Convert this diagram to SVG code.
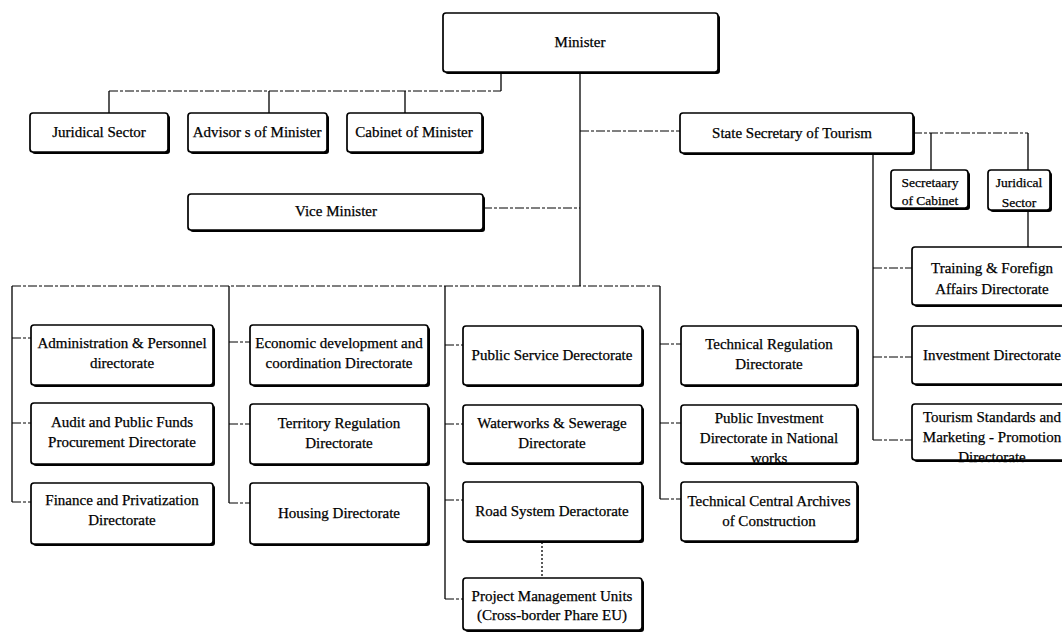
<svg xmlns="http://www.w3.org/2000/svg" width="1062" height="634" viewBox="0 0 1062 634">
  <style>
    .bg { fill: #ffffff; }
    .box { fill: #ffffff; stroke: #000000; stroke-width: 1.7; }
    .shadow { fill: #000000; }
    .t { font-family: "Liberation Serif", "Times New Roman", serif; font-size: 15px; fill: #000000; stroke: #000000; stroke-width: 0.25; text-anchor: middle; }
    .ts { font-size: 13.5px; }
    .solid { stroke: #000000; stroke-width: 1.3; fill: none; }
    .dash { stroke: #000000; stroke-width: 1; fill: none; stroke-dasharray: 9 2 3 2; }
    .dot { stroke: #000000; stroke-width: 1.3; fill: none; stroke-dasharray: 2 2; }
  </style>
  <rect class="bg" x="0" y="0" width="1062" height="634"/>

  <!-- connectors -->
  <g id="connectors">
    <!-- Minister to staff units -->
    <path class="solid" d="M501 72 V91"/>
    <path class="dash" d="M109 91 H501"/>
    <path class="solid" d="M109 91 V113 M269 91 V113 M405 91 V113"/>
    <!-- Minister main trunk -->
    <path class="solid" d="M580 72 V286"/>
    <path class="dash" d="M580 131 H680"/>
    <path class="dash" d="M483 208 H580"/>
    <!-- State Secretary branch -->
    <path class="dash" d="M913 133 H1028"/>
    <path class="solid" d="M931 133 V170 M1028 133 V170"/>
    <path class="solid" d="M1028 210 V247"/>
    <path class="solid" d="M873 153 V440"/>
    <path class="dash" d="M873 268 H912 M873 357 H912 M873 440 H912"/>
    <!-- directorate bus -->
    <path class="dash" d="M12 286 H660"/>
    <path class="solid" d="M12 286 V502 M229 286 V503 M445 286 V599 M660 286 V499"/>
    <path class="dash" d="M12 338 H31 M12 423 H31 M12 502 H31"/>
    <path class="dash" d="M229 342 H250 M229 424 H250 M229 503 H250"/>
    <path class="dash" d="M445 345 H463 M445 424 H463 M445 500 H463 M445 599 H463"/>
    <path class="dash" d="M660 344 H681 M660 423 H681 M660 499 H681"/>
    <!-- Road System to Project Management Units -->
    <path class="dot" d="M542 542 V578"/>
  </g>

  <!-- top level -->
  <g id="minister">
    <rect class="shadow" x="445" y="15" width="275" height="59" rx="3"/>
    <rect class="box" x="443" y="13" width="275" height="59" rx="3"/>
    <text class="t" x="580" y="47">Minister</text>
  </g>
  <g id="juridical-sector">
    <rect class="shadow" x="32" y="115" width="138" height="39" rx="3"/>
    <rect class="box" x="30" y="113" width="138" height="39" rx="3"/>
    <text class="t" x="99" y="137">Juridical Sector</text>
  </g>
  <g id="advisors">
    <rect class="shadow" x="190" y="115" width="139" height="39" rx="3"/>
    <rect class="box" x="188" y="113" width="139" height="39" rx="3"/>
    <text class="t" x="257" y="137">Advisor s of Minister</text>
  </g>
  <g id="cabinet">
    <rect class="shadow" x="349" y="115" width="135" height="39" rx="3"/>
    <rect class="box" x="347" y="113" width="135" height="39" rx="3"/>
    <text class="t" x="414" y="137">Cabinet of Minister</text>
  </g>
  <g id="vice-minister">
    <rect class="shadow" x="190" y="196" width="295" height="36" rx="3"/>
    <rect class="box" x="188" y="194" width="295" height="36" rx="3"/>
    <text class="t" x="336" y="216">Vice Minister</text>
  </g>
  <g id="state-secretary">
    <rect class="shadow" x="682" y="115" width="233" height="40" rx="3"/>
    <rect class="box" x="680" y="113" width="233" height="40" rx="3"/>
    <text class="t" x="792" y="138">State Secretary of Tourism</text>
  </g>

  <!-- tourism branch -->
  <g id="secretary-cabinet">
    <rect class="shadow" x="893" y="172" width="77" height="38" rx="3"/>
    <rect class="box" x="891" y="170" width="77" height="38" rx="3"/>
    <text class="t ts" x="930" y="187">Secretaary</text>
    <text class="t ts" x="930" y="205">of Cabinet</text>
  </g>
  <g id="tourism-juridical">
    <rect class="shadow" x="990" y="172" width="62" height="40" rx="3"/>
    <rect class="box" x="988" y="170" width="62" height="40" rx="3"/>
    <text class="t ts" x="1019" y="187">Juridical</text>
    <text class="t ts" x="1019" y="207">Sector</text>
  </g>
  <g id="training">
    <rect class="shadow" x="914" y="249" width="160" height="58" rx="3"/>
    <rect class="box" x="912" y="247" width="160" height="58" rx="3"/>
    <text class="t" x="992" y="273">Training &amp; Forefign</text>
    <text class="t" x="992" y="294">Affairs Directorate</text>
  </g>
  <g id="investment">
    <rect class="shadow" x="914" y="328" width="160" height="58" rx="3"/>
    <rect class="box" x="912" y="326" width="160" height="58" rx="3"/>
    <text class="t" x="992" y="360">Investment Directorate</text>
  </g>
  <g id="tourism-standards">
    <rect class="shadow" x="914" y="406" width="160" height="56" rx="3"/>
    <rect class="box" x="912" y="404" width="160" height="56" rx="3"/>
    <text class="t" x="992" y="422">Tourism Standards and</text>
    <text class="t" x="992" y="442">Marketing - Promotion</text>
    <text class="t" x="992" y="462">Directorate</text>
  </g>

  <!-- directorates, column 1 -->
  <g id="administration">
    <rect class="shadow" x="33" y="327" width="182" height="60" rx="3"/>
    <rect class="box" x="31" y="325" width="182" height="60" rx="3"/>
    <text class="t" x="122" y="348">Administration &amp; Personnel</text>
    <text class="t" x="122" y="368">directorate</text>
  </g>
  <g id="audit">
    <rect class="shadow" x="33" y="405" width="182" height="61" rx="3"/>
    <rect class="box" x="31" y="403" width="182" height="61" rx="3"/>
    <text class="t" x="122" y="427">Audit and Public Funds</text>
    <text class="t" x="122" y="447">Procurement Directorate</text>
  </g>
  <g id="finance">
    <rect class="shadow" x="33" y="485" width="182" height="61" rx="3"/>
    <rect class="box" x="31" y="483" width="182" height="61" rx="3"/>
    <text class="t" x="122" y="505">Finance and Privatization</text>
    <text class="t" x="122" y="525">Directorate</text>
  </g>

  <!-- directorates, column 2 -->
  <g id="economic">
    <rect class="shadow" x="252" y="327" width="178" height="60" rx="3"/>
    <rect class="box" x="250" y="325" width="178" height="60" rx="3"/>
    <text class="t" x="339" y="348">Economic development and</text>
    <text class="t" x="339" y="368">coordination Directorate</text>
  </g>
  <g id="territory">
    <rect class="shadow" x="252" y="406" width="178" height="60" rx="3"/>
    <rect class="box" x="250" y="404" width="178" height="60" rx="3"/>
    <text class="t" x="339" y="428">Territory Regulation</text>
    <text class="t" x="339" y="448">Directorate</text>
  </g>
  <g id="housing">
    <rect class="shadow" x="252" y="485" width="178" height="61" rx="3"/>
    <rect class="box" x="250" y="483" width="178" height="61" rx="3"/>
    <text class="t" x="339" y="518">Housing Directorate</text>
  </g>

  <!-- directorates, column 3 -->
  <g id="public-service">
    <rect class="shadow" x="465" y="328" width="179" height="59" rx="3"/>
    <rect class="box" x="463" y="326" width="179" height="59" rx="3"/>
    <text class="t" x="552" y="360">Public Service Derectorate</text>
  </g>
  <g id="waterworks">
    <rect class="shadow" x="465" y="407" width="179" height="58" rx="3"/>
    <rect class="box" x="463" y="405" width="179" height="58" rx="3"/>
    <text class="t" x="552" y="428">Waterworks &amp; Sewerage</text>
    <text class="t" x="552" y="448">Directorate</text>
  </g>
  <g id="road-system">
    <rect class="shadow" x="465" y="484" width="179" height="59" rx="3"/>
    <rect class="box" x="463" y="482" width="179" height="59" rx="3"/>
    <text class="t" x="552" y="516">Road System Deractorate</text>
  </g>
  <g id="project-units">
    <rect class="shadow" x="465" y="580" width="179" height="52" rx="3"/>
    <rect class="box" x="463" y="578" width="179" height="52" rx="3"/>
    <text class="t" x="552" y="601">Project Management Units</text>
    <text class="t" x="552" y="620">(Cross-border Phare EU)</text>
  </g>

  <!-- directorates, column 4 -->
  <g id="technical-regulation">
    <rect class="shadow" x="683" y="328" width="176" height="59" rx="3"/>
    <rect class="box" x="681" y="326" width="176" height="59" rx="3"/>
    <text class="t" x="769" y="349">Technical Regulation</text>
    <text class="t" x="769" y="369">Directorate</text>
  </g>
  <g id="public-investment">
    <rect class="shadow" x="683" y="407" width="176" height="58" rx="3"/>
    <rect class="box" x="681" y="405" width="176" height="58" rx="3"/>
    <text class="t" x="769" y="423">Public Investment</text>
    <text class="t" x="769" y="443">Directorate in National</text>
    <text class="t" x="769" y="463">works</text>
  </g>
  <g id="technical-archives">
    <rect class="shadow" x="683" y="484" width="176" height="59" rx="3"/>
    <rect class="box" x="681" y="482" width="176" height="59" rx="3"/>
    <text class="t" x="769" y="506">Technical Central Archives</text>
    <text class="t" x="769" y="526">of Construction</text>
  </g>
</svg>
